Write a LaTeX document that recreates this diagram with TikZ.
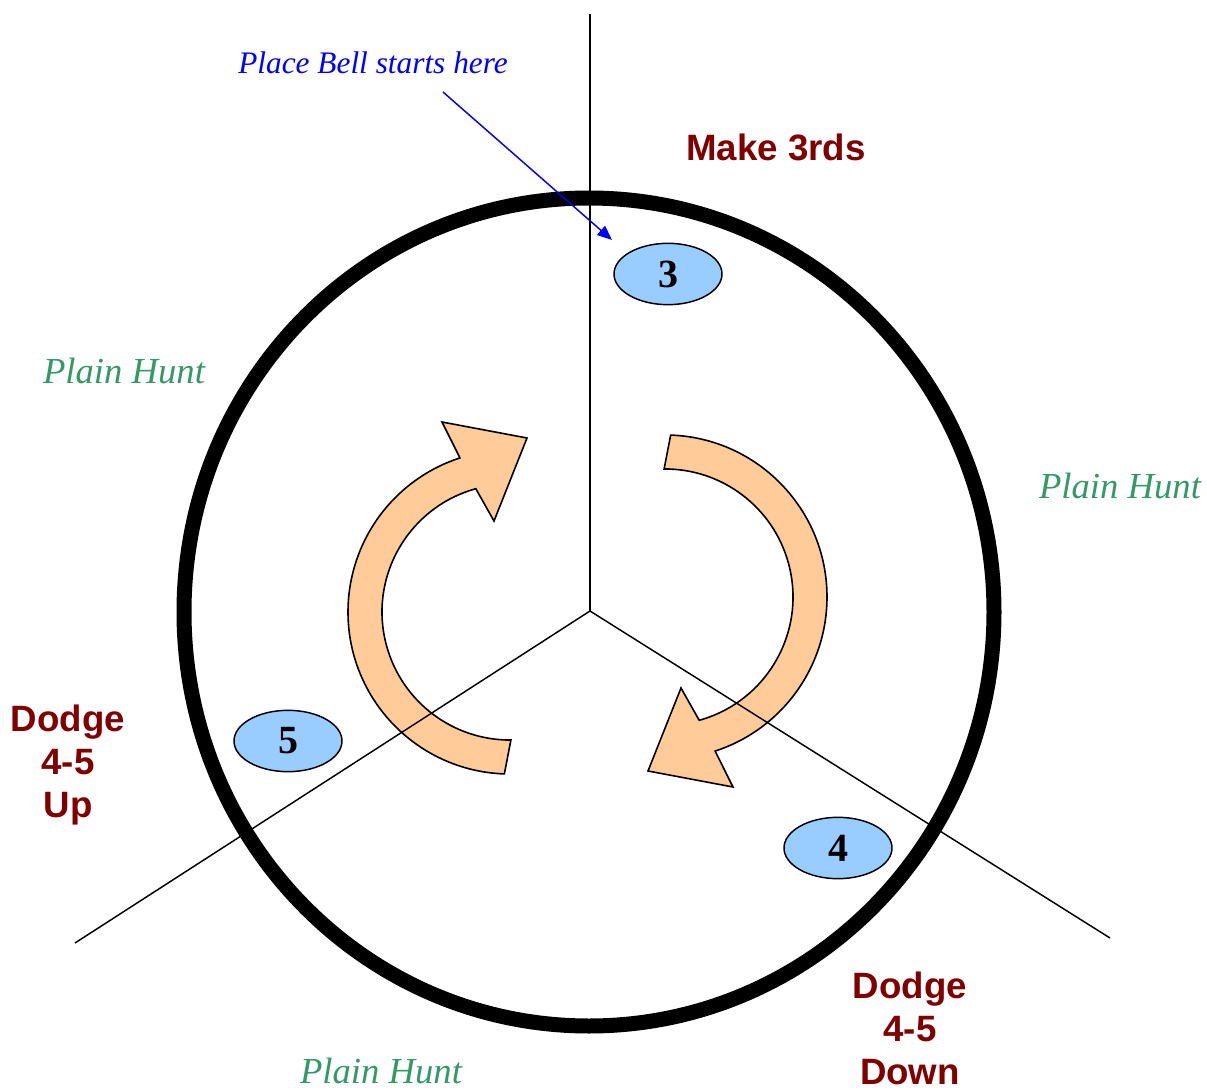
\documentclass[tikz,border=0pt]{standalone}
\usepackage{fontspec}
\setmainfont{Liberation Serif}
\setsansfont{Liberation Sans}
\usetikzlibrary{arrows.meta,shapes.geometric,calc}
\definecolor{darkred}{HTML}{800000}
\definecolor{huntgreen}{HTML}{339966}
\definecolor{bellfill}{HTML}{99CCFF}
\definecolor{arrowfill}{HTML}{FFCC99}
\begin{document}
\begin{tikzpicture}[x=0.75pt,y=-0.75pt,
  bell/.style={ellipse,draw=black,line width=1.1pt,fill=bellfill,minimum width=81pt,minimum height=46pt,inner sep=0pt,font=\fontsize{30}{32}\selectfont\bfseries},
  hunt/.style={text=huntgreen,font=\fontsize{27.5}{32}\selectfont\itshape},
  work/.style={text=darkred,font=\fontsize{27.5}{32.3}\selectfont\sffamily\bfseries,align=center},
  spoke/.style={line width=1.1pt},
  turn/.style={draw=black,line width=1.2pt,fill=arrowfill,line join=miter},
  pointer/.style={draw=blue,line width=1.1pt,-{Triangle[length=11pt,width=9pt]}}]

\path (0,0) rectangle (1207,1091);

% big circle
\draw[line width=11.25pt] (589,612) ellipse [x radius=405, y radius=414];

% curved arrows
\draw[turn] (510,612) ++(92:162) arc[start angle=92,end angle=252,radius=162]
  -- (442,422) -- (527,438) -- (494,521) -- (475.8,488.7)
  arc[start angle=254.5,end angle=89.6,radius=128] -- cycle;
\begin{scope}[rotate around={180:(587.5,604.5)}]
\draw[turn] (510,612) ++(92:162) arc[start angle=92,end angle=252,radius=162]
  -- (442,422) -- (527,438) -- (494,521) -- (475.8,488.7)
  arc[start angle=254.5,end angle=89.6,radius=128] -- cycle;
\end{scope}

% spokes
\coordinate (O) at (590,611);
\coordinate (top) at (590,14);
\coordinate (ll) at (75,943);
\coordinate (lr) at (1110,938);
\draw[spoke] (top) -- (O);
\draw[spoke] (O) -- (ll);
\draw[spoke] (O) -- (lr);

% bells
\node[bell] (b3) at (668,274) {3};
\node[bell] (b5) at (288,741) {5};
\node[bell] (b4) at (838,848) {4};

% labels
\node[text=blue,font=\fontsize{23.5}{28}\selectfont\itshape] (start) at (373,63) {Place Bell starts here};
\node[work] (make) at (776,147) {Make 3rds};
\node[hunt] (hunt1) at (124,371) {Plain Hunt};
\node[hunt] (hunt2) at (1120,486) {Plain Hunt};
\node[hunt] (hunt3) at (381,1071) {Plain Hunt};
\node[work,anchor=north] (up) at (68,700) {Dodge\\4-5\\Up};
\node[work,anchor=north] (down) at (910,967) {Dodge\\4-5\\Down};

% pointer
\coordinate (p0) at (443,92);
\coordinate (p1) at (612,240);
\draw[pointer] (p0) -- (p1);
\end{tikzpicture}
\end{document}
